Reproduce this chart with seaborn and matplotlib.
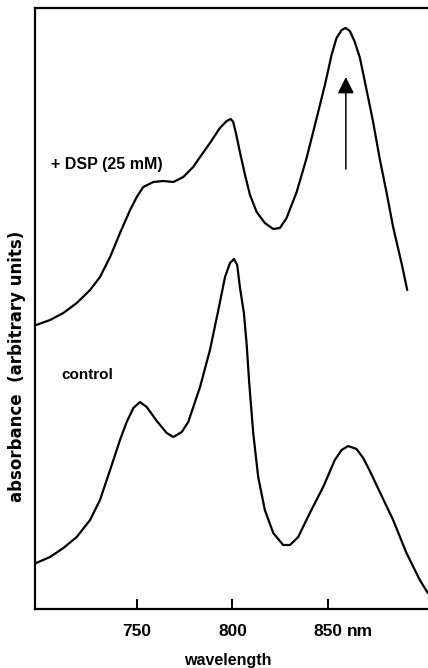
import numpy as np
import pandas as pd
import matplotlib
matplotlib.use("Agg")
import matplotlib.pyplot as plt
import seaborn as sns

# ---- data (wavelength in nm, absorbance in arbitrary units) ----
wavelength_dsp = [697.0, 704.3, 711.3, 718.3, 725.3, 730.5, 735.8, 741.0, 746.3, 749.8,
                  753.2, 758.5, 763.7, 769.0, 774.2, 779.4, 783.0, 788.2, 793.4, 797.0,
                  799.1, 800.4, 801.8, 803.9, 806.6, 809.2, 812.7, 817.0, 821.4, 824.9,
                  828.4, 833.7, 838.9, 844.2, 848.5, 852.0, 854.6, 857.3, 859.4, 861.6,
                  864.2, 866.9, 869.5, 872.1, 873.8, 877.3, 880.9, 884.3, 888.7, 891.7]
absorbance_dsp = [2.84, 2.89, 2.96, 3.06, 3.19, 3.32, 3.52, 3.76, 3.99, 4.12,
                  4.22, 4.27, 4.28, 4.27, 4.32, 4.42, 4.52, 4.66, 4.81, 4.88,
                  4.90, 4.87, 4.76, 4.57, 4.34, 4.14, 3.97, 3.86, 3.80, 3.81,
                  3.91, 4.17, 4.51, 4.91, 5.24, 5.54, 5.71, 5.79, 5.81, 5.78,
                  5.67, 5.51, 5.27, 5.03, 4.87, 4.50, 4.16, 3.82, 3.46, 3.19]

wavelength_control = [697.0, 704.3, 711.3, 718.3, 725.3, 730.5, 735.8, 741.0, 744.5, 748.0,
                      751.5, 755.0, 760.3, 765.5, 769.0, 773.4, 776.8, 783.0, 788.2, 792.6,
                      796.1, 798.7, 800.8, 802.5, 803.9, 806.0, 807.4, 808.8, 810.9, 813.5,
                      817.0, 821.4, 826.6, 830.2, 834.5, 840.6, 847.6, 853.7, 857.3, 860.7,
                      865.1, 868.6, 872.1, 877.3, 884.3, 891.3, 898.3, 902.5]
absorbance_control = [0.46, 0.52, 0.61, 0.72, 0.89, 1.09, 1.39, 1.69, 1.87, 2.01,
                      2.07, 2.02, 1.88, 1.76, 1.72, 1.77, 1.87, 2.22, 2.59, 2.99,
                      3.32, 3.46, 3.50, 3.44, 3.22, 2.96, 2.66, 2.26, 1.76, 1.32,
                      0.99, 0.76, 0.64, 0.64, 0.72, 0.96, 1.22, 1.49, 1.59, 1.63,
                      1.60, 1.51, 1.38, 1.17, 0.89, 0.56, 0.29, 0.16]

tick_values = [750, 800, 850]
tick_labels = ["750", "800", "850"]
label_dsp = "+ DSP (25 mM)"
label_control = "control"
x_label = "wavelength"
y_label = "absorbance  (arbitrary units)"
unit_label = "nm"

# arrow marking the increase of the 850 nm band
arrow_x = 859.5
arrow_from = 4.40
arrow_to = 5.32

# ---- build table ----
df = pd.concat([
    pd.DataFrame({"wavelength": wavelength_dsp, "absorbance": absorbance_dsp, "sample": "dsp"}),
    pd.DataFrame({"wavelength": wavelength_control, "absorbance": absorbance_control, "sample": "control"}),
], ignore_index=True)

sns.set_style("ticks")
plt.rcParams["font.family"] = ["Liberation Sans", "DejaVu Sans"]
plt.rcParams["font.weight"] = "bold"
plt.rcParams["text.color"] = "black"
plt.rcParams["axes.labelcolor"] = "black"
plt.rcParams["xtick.color"] = "black"
plt.rcParams["ytick.color"] = "black"
plt.rcParams["axes.edgecolor"] = "black"

fig = plt.figure(figsize=(4.28, 6.68), dpi=100)
ax = fig.add_axes([35 / 428, (668 - 609) / 668, 393 / 428, 601 / 668])

sns.lineplot(data=df, x="wavelength", y="absorbance", hue="sample",
             palette={"dsp": "black", "control": "black"}, estimator=None,
             sort=False, legend=False, linewidth=1.6, ax=ax)
for ln in ax.lines:
    ln.set_solid_joinstyle("round")
    ln.set_solid_capstyle("round")

ax.set_xlim(696.4, 902.6)
ax.set_ylim(0, 6.01)

# spines
for side in ["left", "bottom", "top"]:
    ax.spines[side].set_linewidth(1.6)
    ax.spines[side].set_color("black")
ax.spines["right"].set_visible(False)

ax.set_xticks(tick_values)
ax.set_xticklabels(tick_labels, fontsize=12.5, fontweight="bold")
ax.set_yticks([])
ax.tick_params(axis="x", direction="in", length=7, width=1.4, pad=11, colors="black")

ax.set_xlabel(x_label, fontsize=11.5, fontweight="bold")
ax.xaxis.set_label_coords(0.491, -0.073)
ax.set_ylabel(y_label, fontsize=12, fontweight="bold", family="DejaVu Sans")
ax.yaxis.set_label_coords(-0.024, 0.404)

# "nm" after the 850 tick label
ax.annotate(unit_label, xy=(850, 0), xycoords=("data", "axes fraction"),
            xytext=(13.5, -11), textcoords="offset points",
            ha="left", va="top", fontsize=12.5, fontweight="bold")

# curve labels
ax.text(704.7, 4.45, label_dsp, fontsize=11.5, fontweight="bold", va="center", ha="left")
ax.text(710.4, 2.34, label_control, fontsize=11, fontweight="bold", va="center", ha="left")

# arrow
ax.annotate("", xy=(arrow_x, arrow_to), xytext=(arrow_x, arrow_from),
            arrowprops=dict(arrowstyle="-|>,head_length=1.0,head_width=0.5",
                            color="black", lw=1.1, shrinkA=0, shrinkB=0,
                            mutation_scale=10))

fig.savefig("out.png", dpi=100)
